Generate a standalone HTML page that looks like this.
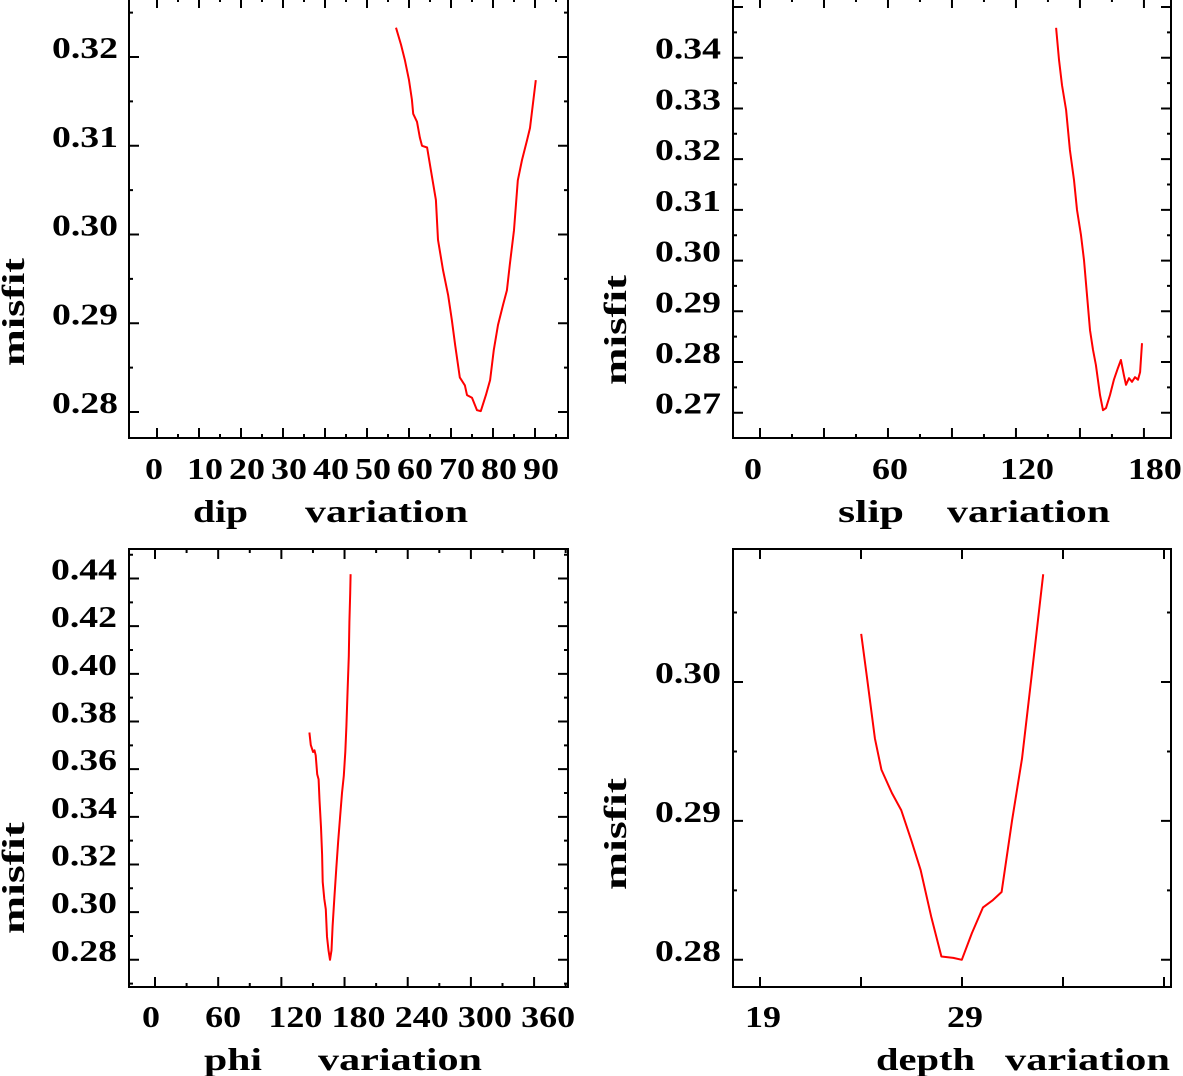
<!DOCTYPE html>
<html><head><meta charset="utf-8"><style>
html,body{margin:0;padding:0;background:#fff;}
svg{display:block;}
text{font-family:"Liberation Serif",serif;fill:#000;}
</style></head><body>
<svg id="chart" width="1183" height="1076" viewBox="0 0 1183 1076" xmlns="http://www.w3.org/2000/svg"></svg>
<script>
// Panel 1: dip
const dipX=[56.9,58.1,59.0,60.0,60.7,61.0,61.9,62.6,63.1,64.3,65.2,66.4,66.9,68.1,69.3,70.2,71.0,72.1,73.3,73.8,75.0,76.2,77.1,78.3,79.3,80.2,81.2,82.4,83.3,84.0,85.0,85.9,86.9,88.1,88.8,90.2];
const dipY=[0.3233,0.3214,0.3197,0.3174,0.3152,0.3136,0.3127,0.3109,0.3100,0.3098,0.3073,0.3039,0.2994,0.2960,0.2932,0.2904,0.2875,0.2839,0.2830,0.2819,0.2816,0.2802,0.2801,0.2819,0.2836,0.2870,0.2898,0.2921,0.2937,0.2966,0.3005,0.3061,0.3084,0.3106,0.3120,0.3174];
const dipXTicks=[0,10,20,30,40,50,60,70,80,90];
const dipYTicks=[0.28,0.29,0.30,0.31,0.32];
// Panel 2: slip
const slipX=[138.8,140.2,141.6,143.5,145.3,147.2,148.6,150.5,151.9,153.3,154.7,156.1,157.5,159.4,160.8,162.2,164.1,165.9,167.8,169.2,170.6,171.6,173.0,174.4,175.8,177.2,178.2,179.1];
const slipY=[0.3459,0.3396,0.3346,0.3297,0.3218,0.3159,0.3100,0.3050,0.3001,0.2932,0.2863,0.2824,0.2794,0.2735,0.2705,0.2709,0.2735,0.2765,0.2788,0.2804,0.2774,0.2755,0.2768,0.2761,0.2770,0.2765,0.2780,0.2837];
const slipXTicks=[0,60,120,180];
const slipYTicks=[0.27,0.28,0.29,0.30,0.31,0.32,0.33,0.34];
// Panel 3: phi
const phiX=[146.6,148.0,150.1,151.5,152.6,154.0,155.4,156.2,157.6,158.7,159.3,160.8,162.2,163.3,164.8,166.2,167.6,168.7,170.5,172.2,174.0,175.8,177.6,179.3,180.7,181.8,182.9,184.0,184.6,185.4,185.8];
const phiY=[0.3754,0.3701,0.3672,0.3679,0.3658,0.3579,0.3557,0.3471,0.3356,0.3242,0.3127,0.3055,0.3012,0.2897,0.2840,0.2800,0.2840,0.2941,0.3069,0.3184,0.3299,0.3400,0.3500,0.3572,0.3672,0.3780,0.3931,0.4074,0.4217,0.4339,0.4418];
const phiXTicks=[0,60,120,180,240,300,360];
const phiYTicks=[0.28,0.30,0.32,0.34,0.36,0.38,0.40,0.42,0.44];
// Panel 4: depth
const depthX=[24.01,24.29,24.69,25.01,25.53,25.99,26.50,26.95,27.47,27.98,28.57,28.99,29.49,30.04,30.50,30.96,31.48,31.97,32.44,33.02];
const depthY=[0.30346,0.30037,0.29594,0.29369,0.29201,0.29078,0.28856,0.28647,0.28314,0.28024,0.28014,0.28000,0.28192,0.28377,0.28426,0.28488,0.29005,0.29448,0.30037,0.30776];
const depthXTicks=[19,29];
const depthYTicks=[0.28,0.29,0.30];

const NS="http://www.w3.org/2000/svg";
const svg=document.getElementById('chart');
function mk(tag,attrs,parent){const e=document.createElementNS(NS,tag);for(const k in attrs)e.setAttribute(k,attrs[k]);(parent||svg).appendChild(e);return e;}

function panel(cfg){
  const g=mk('g',{});
  
  
  const L=cfg.L,R=cfg.R,T=cfg.T,B=cfg.B;
  const sx=v=>cfg.x0+(v-cfg.xv0)*cfg.xk;
  const sy=v=>cfg.y0-(v-cfg.yv0)*cfg.yk;
  const frame=mk('rect',{x:L,y:T,width:R-L,height:B-T,fill:'none',stroke:'#000','stroke-width':2},g);
  
  
  let d='';
  for(let v=cfg.xmin;v<=cfg.xmax+1e-9;v+=cfg.xminor){
    const x=sx(v);if(x<L||x>R)continue;
    const q=(v-cfg.xv0)/cfg.xmajor;
    const major=Math.abs(q-Math.round(q))<1e-6;
    const len=major?10:4;
    d+=`M${x},${B}v${-len}M${x},${T}v${len}`;
  }
  for(let v=cfg.ymin;v<=cfg.ymax+1e-9;v+=cfg.yminor){
    const y=sy(v);if(y<T||y>B)continue;
    const q=(v-cfg.yv0)/cfg.ymajor;
    const major=Math.abs(q-Math.round(q))<1e-6;
    const len=major?10:4;
    d+=`M${L},${y}h${len}M${R},${y}h${-len}`;
  }
  const ticks=mk('path',{d:d,stroke:'#000','stroke-width':2,fill:'none'},g);
  
  
  cfg.xticks.forEach(v=>{
    const s=String(v);
    const t=mk('text',{x:sx(v)+cfg.xlabOff,y:479+cfg.dy,'font-size':31,'font-weight':'bold',textLength:s.length*18,lengthAdjust:'spacingAndGlyphs'},g);
    t.textContent=s;
    
    
  });
  cfg.yticks.forEach(v=>{
    const t=mk('text',{x:cfg.ylabR-66,y:sy(v)+1,'font-size':31,'font-weight':'bold',textLength:66,lengthAdjust:'spacingAndGlyphs'},g);
    t.textContent=v.toFixed(2);
    
    
  });
  const yt=mk('text',{x:0,y:0,'font-size':32,'font-weight':'bold','text-anchor':'middle',textLength:cfg.ytLen,lengthAdjust:'spacingAndGlyphs',transform:`translate(${cfg.ytX},${cfg.ytY}) rotate(-90)`},g);
  yt.textContent='misfit';
  
  
  cfg.xt.forEach(p=>{
    const t=mk('text',{x:p[1],y:522+cfg.dy,'font-size':32,'font-weight':'bold',textLength:p[2]-p[1],lengthAdjust:'spacingAndGlyphs'},g);
    t.textContent=p[0];
    
    
  });
  const pts=cfg.xs.map((v,i)=>sx(v).toFixed(1)+','+sy(cfg.ys[i]).toFixed(1)).join(' ');
  const line=mk('polyline',{points:pts,fill:'none',stroke:'#ff0000','stroke-width':2,'stroke-linejoin':'round'},g);
  
  
}

panel({name:'dip-panel',L:129,R:568,T:-2,B:438,x0:157,xv0:0,xk:4.2,y0:412,yv0:0.28,yk:8875,
  xmin:0,xmax:95,xminor:5,xmajor:10,ymin:0.275,ymax:0.33,yminor:0.005,ymajor:0.01,
  xticks:dipXTicks,yticks:dipYTicks,xlabOff:-12,ylabR:118,dy:0,
  ytX:24,ytY:312,ytLen:108,xt:[['dip',193,248],['variation',305,468]],xs:dipX,ys:dipY});
panel({name:'slip-panel',L:733,R:1171,T:-2,B:438,x0:760,xv0:0,xk:2.133,y0:362,yv0:0.28,yk:5071,
  xmin:0,xmax:200,xminor:15,xmajor:30,ymin:0.265,ymax:0.35,yminor:0.005,ymajor:0.01,
  xticks:slipXTicks,yticks:slipYTicks,xlabOff:-16,ylabR:721,dy:0,
  ytX:626,ytY:330,ytLen:110,xt:[['slip',838,904],['variation',947,1110]],xs:slipX,ys:slipY});
panel({name:'phi-panel',L:129,R:568,T:549,B:987,x0:155,xv0:0,xk:1.053,y0:959.8,yv0:0.28,yk:2383,
  xmin:0,xmax:400,xminor:30,xmajor:60,ymin:0.27,ymax:0.45,yminor:0.01,ymajor:0.02,
  xticks:phiXTicks,yticks:phiYTicks,xlabOff:-13,ylabR:117,dy:548,
  ytX:24,ytY:878,ytLen:112,xt:[['phi',204,262],['variation',318,482]],xs:phiX,ys:phiY});
panel({name:'depth-panel',L:733,R:1171,T:549,B:987,x0:760,xv0:19,xk:20.2,y0:959.8,yv0:0.28,yk:13890,
  xmin:19,xmax:40,xminor:5,xmajor:5,ymin:0.275,ymax:0.31,yminor:0.005,ymajor:0.01,
  xticks:depthXTicks,yticks:depthYTicks,xlabOff:-15,ylabR:721,dy:548,
  ytX:626,ytY:834,ytLen:112,xt:[['depth',876,975],['variation',1005,1170]],xs:depthX,ys:depthY});
</script>
</body></html>
